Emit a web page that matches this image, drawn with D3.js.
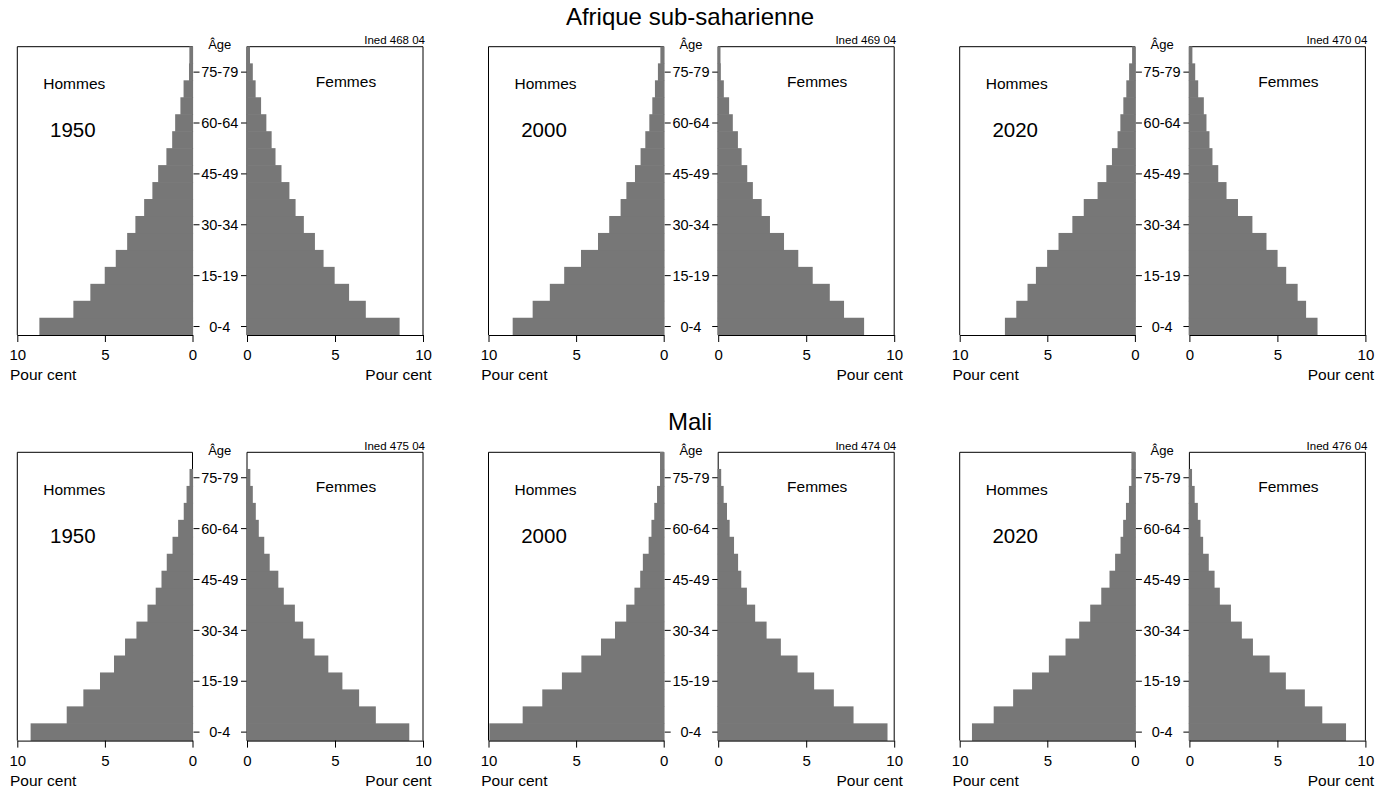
<!DOCTYPE html>
<html>
<head>
<meta charset="utf-8">
<script src="https://cdn.jsdelivr.net/npm/d3@7"></script>
<style>
  body { margin: 0; background: #fff; }
  svg { display: block; font-family: "Liberation Sans", Arial, sans-serif; }
</style>
</head>
<body>
<div id="chart"></div>
<script>
// groupes d'âge, du bas vers le haut
const ages = ["0-4","5-9","10-14","15-19","20-24","25-29","30-34","35-39","40-44",
              "45-49","50-54","55-59","60-64","65-69","70-74","75-79","80+"];
const ageTicks = ["0-4","15-19","30-34","45-49","60-64","75-79"];
const pctTicks = [10, 5, 0];

// Afrique sub-saharienne (pour cent)
const afr1950H = [8.74, 6.80, 5.83, 5.01, 4.38, 3.73, 3.26, 2.76, 2.29, 1.96, 1.49, 1.16, 0.99, 0.69, 0.51, 0.20, 0.18];
const afr1950F = [8.67, 6.75, 5.80, 4.98, 4.35, 3.86, 3.23, 2.76, 2.41, 1.96, 1.62, 1.40, 1.10, 0.80, 0.49, 0.33, 0.17];
const afr2000H = [8.62, 7.48, 6.50, 5.68, 4.72, 3.75, 3.11, 2.46, 2.13, 1.64, 1.32, 1.05, 0.82, 0.65, 0.50, 0.33, 0.19];
const afr2000F = [8.29, 7.15, 6.34, 5.37, 4.55, 3.74, 2.94, 2.47, 1.97, 1.65, 1.33, 1.12, 0.83, 0.62, 0.32, 0.15, 0.13];
const afr2020H = [7.42, 6.77, 6.13, 5.65, 5.01, 4.36, 3.57, 2.92, 2.13, 1.63, 1.31, 0.99, 0.83, 0.66, 0.49, 0.33, 0.16];
const afr2020F = [7.28, 6.63, 6.15, 5.50, 5.01, 4.38, 3.58, 2.76, 2.11, 1.64, 1.31, 1.14, 0.97, 0.82, 0.50, 0.33, 0.17];

// Mali (pour cent)
const mali1950H = [9.24, 7.18, 6.23, 5.28, 4.48, 3.85, 3.20, 2.57, 2.10, 1.77, 1.47, 1.14, 0.82, 0.50, 0.34, 0.17, 0];
const mali1950F = [9.22, 7.32, 6.37, 5.42, 4.62, 3.84, 3.19, 2.72, 2.09, 1.78, 1.29, 0.98, 0.67, 0.50, 0.33, 0.19, 0];
const mali2000H = [9.95, 8.05, 6.93, 5.81, 4.70, 3.58, 2.78, 2.14, 1.67, 1.34, 1.19, 0.86, 0.70, 0.54, 0.38, 0.21, 0.21];
const mali2000F = [9.62, 7.69, 6.57, 5.45, 4.51, 3.56, 2.75, 2.10, 1.63, 1.31, 1.13, 0.90, 0.65, 0.50, 0.31, 0.17, 0];
const mali2020H = [9.30, 8.06, 6.95, 5.87, 4.91, 3.96, 3.18, 2.55, 1.92, 1.45, 1.13, 0.82, 0.67, 0.51, 0.34, 0.20, 0.20];
const mali2020F = [8.90, 7.55, 6.56, 5.48, 4.56, 3.61, 2.98, 2.36, 1.73, 1.43, 1.10, 0.78, 0.63, 0.48, 0.30, 0.15, 0];

const rowTitles = ["Afrique sub-saharienne", "Mali"];
const years = ["1950", "2000", "2020"];
const rows = [
  [[afr1950H, afr1950F], [afr2000H, afr2000F], [afr2020H, afr2020F]],
  [[mali1950H, mali1950F], [mali2000H, mali2000F], [mali2020H, mali2020F]]
];
const codes = [["Ined 468 04", "Ined 469 04", "Ined 470 04"],
               ["Ined 475 04", "Ined 474 04", "Ined 476 04"]];

const W = 1379, Hsvg = 794;
const LW = 175.2, GAP = 54.5, RW = 176, H = 288.3;
const colX = [17.3, 488.5, 959.7];
const rowY = [46.7, 452.3];
const barColor = "#777777";

const svg = d3.select("#chart").append("svg")
  .attr("width", W)
  .attr("height", Hsvg);

// titres
svg.selectAll(".row-title")
  .data(rowTitles)
  .enter().append("text")
    .attr("class", "row-title")
    .attr("x", 690)
    .attr("y", (d, i) => rowY[i] - 22)
    .attr("text-anchor", "middle")
    .style("font-size", "24px")
    .text(d => d);

function drawPanel(g, hommes, femmes, year, code) {
  const y = d3.scaleBand().domain(ages).range([H, 0]).padding(0);
  const xL = d3.scaleLinear().domain([10, 0]).range([0, LW]);
  const xR = d3.scaleLinear().domain([0, 10]).range([LW + GAP, LW + GAP + RW]);
  const data = ages.map((a, i) => ({ age: a, h: hommes[i], f: femmes[i] }));

  // cadres
  g.append("path")
    .attr("d", `M${xL(0)},${H}V0H${xL(10)}V${H}`)
    .attr("fill", "none").attr("stroke", "#000").attr("stroke-width", 1);
  g.append("path")
    .attr("d", `M${xR(0)},${H}V0H${xR(10)}V${H}`)
    .attr("fill", "none").attr("stroke", "#000").attr("stroke-width", 1);

  // barres (légèrement chevauchantes pour éviter les joints)
  g.selectAll(".bar-h")
    .data(data.filter(d => d.h > 0))
    .enter().append("rect")
      .attr("class", "bar-h")
      .attr("x", d => xL(d.h))
      .attr("y", d => y(d.age) - 0.3)
      .attr("width", d => xL(0) - xL(d.h) + 0.6)
      .attr("height", y.bandwidth() + 0.6)
      .attr("fill", barColor);

  g.selectAll(".bar-f")
    .data(data.filter(d => d.f > 0))
    .enter().append("rect")
      .attr("class", "bar-f")
      .attr("x", xR(0) - 0.6)
      .attr("y", d => y(d.age) - 0.3)
      .attr("width", d => xR(d.f) - xR(0) + 0.6)
      .attr("height", y.bandwidth() + 0.6)
      .attr("fill", barColor);

  // axes du bas
  const axL = g.append("g")
    .attr("transform", `translate(0,${H})`)
    .call(d3.axisBottom(xL).tickValues(pctTicks).tickSize(7).tickSizeOuter(0).tickPadding(7.5));
  const axR = g.append("g")
    .attr("transform", `translate(0,${H})`)
    .call(d3.axisBottom(xR).tickValues(pctTicks.slice().reverse()).tickSize(7).tickSizeOuter(0).tickPadding(7.5));
  [axL, axR].forEach(ax => {
    ax.selectAll("text").style("font-size", "15px").attr("fill", "#000");
    ax.selectAll("line").attr("stroke", "#000");
    ax.select(".domain").attr("stroke", "#000");
  });

  // ticks d'âge
  g.append("g")
    .attr("transform", `translate(${xL(0) + 1},0)`)
    .call(d3.axisRight(y).tickValues(ageTicks).tickSize(6).tickSizeOuter(0).tickFormat(""))
    .call(a => a.select(".domain").remove());
  g.append("g")
    .attr("transform", `translate(${xR(0) - 0.5},0)`)
    .call(d3.axisLeft(y).tickValues(ageTicks).tickSize(5.5).tickSizeOuter(0).tickFormat(""))
    .call(a => a.select(".domain").remove());

  g.selectAll(".age-label")
    .data(ageTicks)
    .enter().append("text")
      .attr("class", "age-label")
      .attr("x", LW + GAP / 2)
      .attr("y", d => y(d) + y.bandwidth() / 2)
      .attr("dy", "0.36em")
      .attr("text-anchor", "middle")
      .style("font-size", "14.5px")
      .text(d => d);

  g.append("text")
    .attr("x", LW + GAP / 2).attr("y", 2.5)
    .attr("text-anchor", "middle")
    .style("font-size", "13px")
    .text("Âge");

  g.append("text")
    .attr("x", 26).attr("y", 42.3)
    .style("font-size", "15.5px")
    .text("Hommes");
  g.append("text")
    .attr("x", 32.7).attr("y", 90.6)
    .style("font-size", "20.5px")
    .text(year);
  g.append("text")
    .attr("x", xR(0) + 99).attr("y", 40)
    .attr("text-anchor", "middle")
    .style("font-size", "15.5px")
    .text("Femmes");
  g.append("text")
    .attr("x", xR(10) + 2).attr("y", -2.7)
    .attr("text-anchor", "end")
    .style("font-size", "11.5px")
    .text(code);

  g.append("text")
    .attr("x", -7.3).attr("y", H + 45)
    .style("font-size", "15.5px")
    .text("Pour cent");
  g.append("text")
    .attr("x", xR(10) + 8.7).attr("y", H + 45)
    .attr("text-anchor", "end")
    .style("font-size", "15.5px")
    .text("Pour cent");
}

rows.forEach((row, r) => {
  row.forEach((pair, c) => {
    const g = svg.append("g").attr("transform", `translate(${colX[c]},${rowY[r]})`);
    drawPanel(g, pair[0], pair[1], years[c], codes[r][c]);
  });
});
</script>
</body>
</html>
